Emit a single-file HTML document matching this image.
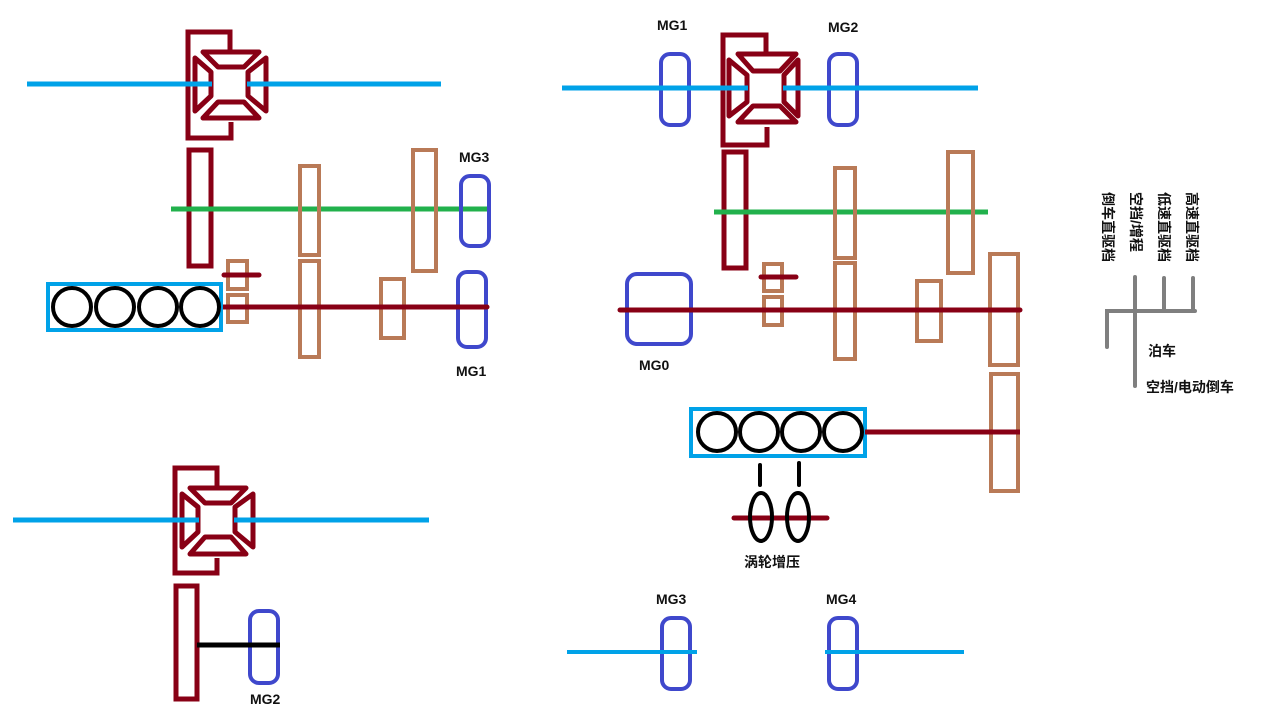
<!DOCTYPE html>
<html><head><meta charset="utf-8"><style>
html,body{margin:0;padding:0;background:#fff;}
svg{display:block;}
text{font-family:"Liberation Sans","Noto Sans CJK SC",sans-serif;font-weight:bold;font-size:14px;fill:#111;}
</style></head><body>
<svg width="1280" height="720" viewBox="0 0 1280 720" xmlns="http://www.w3.org/2000/svg">
<g fill="none" stroke-linejoin="round">

<!-- ===== Top-left ===== -->
<g stroke="#880015" stroke-width="5">
  <polyline points="230,50 230,32 188,32 188,138 231,138 231,122" stroke-linejoin="miter"/>
  <polygon points="203,52 259,52 244,67 218,67"/>
  <polygon points="203,118 259,118 244,102 218,102"/>
  <polygon points="195,58 211,72 211,96 195,111"/>
  <polygon points="266,58 248,72 248,96 266,111"/>
  <rect x="189" y="150" width="22" height="116" stroke-linejoin="miter"/>
</g>
<line x1="27" y1="84" x2="212" y2="84" stroke="#00a2e8" stroke-width="5"/>
<line x1="247" y1="84" x2="441" y2="84" stroke="#00a2e8" stroke-width="5"/>
<line x1="171" y1="209" x2="490" y2="209" stroke="#22b14c" stroke-width="5"/>
<g stroke="#b97a57" stroke-width="4" stroke-linejoin="miter">
  <rect x="300" y="166" width="19" height="89"/>
  <rect x="300" y="261" width="19" height="96"/>
  <rect x="413" y="150" width="23" height="121"/>
  <rect x="381" y="279" width="23" height="59"/>
  <rect x="228" y="261" width="19" height="28"/>
  <rect x="228" y="295" width="19" height="27"/>
</g>
<line x1="224" y1="275" x2="259" y2="275" stroke="#880015" stroke-width="5" stroke-linecap="round"/>
<rect x="461" y="176" width="28" height="70" rx="9" stroke="#3f48cc" stroke-width="4"/>
<rect x="458" y="272" width="28" height="75" rx="9" stroke="#3f48cc" stroke-width="4"/>
<line x1="222" y1="307" x2="487" y2="307" stroke="#880015" stroke-width="5" stroke-linecap="round"/>
<rect x="48" y="284" width="173" height="46" stroke="#00a2e8" stroke-width="4" stroke-linejoin="miter"/>
<g stroke="#000" stroke-width="4">
  <circle cx="72" cy="307" r="19"/><circle cx="115" cy="307" r="19"/>
  <circle cx="158" cy="307" r="19"/><circle cx="200" cy="307" r="19"/>
</g>

<!-- ===== Bottom-left ===== -->
<g stroke="#880015" stroke-width="5">
  <polyline points="217,487 217,468 175,468 175,573 217,573 217,558" stroke-linejoin="miter"/>
  <polygon points="190,488 246,488 231,503 205,503"/>
  <polygon points="190,554 246,554 231,537 205,537"/>
  <polygon points="182,494 198,507 198,532 182,547"/>
  <polygon points="253,494 235,507 235,532 253,547"/>
  <rect x="176" y="586" width="21" height="113" stroke-linejoin="miter"/>
</g>
<line x1="13" y1="520" x2="199" y2="520" stroke="#00a2e8" stroke-width="5"/>
<line x1="234" y1="520" x2="429" y2="520" stroke="#00a2e8" stroke-width="5"/>
<rect x="250" y="611" width="28" height="72" rx="9" stroke="#3f48cc" stroke-width="4"/>
<line x1="197" y1="645" x2="280" y2="645" stroke="#000" stroke-width="5"/>

<!-- ===== Top-right ===== -->
<rect x="661" y="54" width="28" height="71" rx="9" stroke="#3f48cc" stroke-width="4"/>
<rect x="829" y="54" width="28" height="71" rx="9" stroke="#3f48cc" stroke-width="4"/>
<g stroke="#880015" stroke-width="5">
  <polyline points="766,53 766,35 723,35 723,145 767,145 767,127" stroke-linejoin="miter"/>
  <polygon points="738,54 796,54 780,71 753,71"/>
  <polygon points="738,122 796,122 780,106 753,106"/>
  <polygon points="729,60 747,75 747,102 729,116"/>
  <polygon points="798,60 784,75 784,102 798,116"/>
  <rect x="724" y="152" width="22" height="116" stroke-linejoin="miter"/>
</g>
<line x1="562" y1="88" x2="748" y2="88" stroke="#00a2e8" stroke-width="5"/>
<line x1="783" y1="88" x2="978" y2="88" stroke="#00a2e8" stroke-width="5"/>
<line x1="714" y1="212" x2="988" y2="212" stroke="#22b14c" stroke-width="5"/>
<g stroke="#b97a57" stroke-width="4" stroke-linejoin="miter">
  <rect x="835" y="168" width="20" height="90"/>
  <rect x="835" y="263" width="20" height="96"/>
  <rect x="948" y="152" width="25" height="121"/>
  <rect x="917" y="281" width="24" height="60"/>
  <rect x="990" y="254" width="28" height="111"/>
  <rect x="991" y="374" width="27" height="117"/>
  <rect x="764" y="264" width="18" height="27"/>
  <rect x="764" y="297" width="18" height="28"/>
</g>
<line x1="761" y1="277" x2="796" y2="277" stroke="#880015" stroke-width="5" stroke-linecap="round"/>
<rect x="627" y="274" width="64" height="70" rx="10" stroke="#3f48cc" stroke-width="4"/>
<line x1="620" y1="310" x2="1020" y2="310" stroke="#880015" stroke-width="5" stroke-linecap="round"/>
<rect x="691" y="409" width="174" height="47" stroke="#00a2e8" stroke-width="4" stroke-linejoin="miter"/>
<g stroke="#000" stroke-width="4">
  <circle cx="717" cy="432" r="19"/><circle cx="759" cy="432" r="19"/>
  <circle cx="801" cy="432" r="19"/><circle cx="843" cy="432" r="19"/>
</g>
<line x1="865" y1="432" x2="1020" y2="432" stroke="#880015" stroke-width="5"/>
<g stroke="#000" stroke-width="4" stroke-linecap="round">
  <line x1="760" y1="465" x2="760" y2="485"/>
  <line x1="799" y1="463" x2="799" y2="485"/>
</g>
<line x1="734" y1="518" x2="827" y2="518" stroke="#880015" stroke-width="5" stroke-linecap="round"/>
<g stroke="#000" stroke-width="4">
  <ellipse cx="761" cy="517" rx="11" ry="24"/>
  <ellipse cx="798" cy="517" rx="11" ry="24"/>
</g>

<!-- MG3 / MG4 -->
<rect x="662" y="618" width="28" height="71" rx="9" stroke="#3f48cc" stroke-width="4"/>
<rect x="829" y="618" width="28" height="71" rx="9" stroke="#3f48cc" stroke-width="4"/>
<line x1="567" y1="652" x2="697" y2="652" stroke="#00a2e8" stroke-width="4"/>
<line x1="825" y1="652" x2="964" y2="652" stroke="#00a2e8" stroke-width="4"/>

<!-- Legend -->
<g stroke="#7f7f7f" stroke-width="4" stroke-linecap="round" stroke-linejoin="miter">
  <polyline points="1107,347 1107,311 1195,311"/>
  <line x1="1135" y1="277" x2="1135" y2="386"/>
  <line x1="1164" y1="278" x2="1164" y2="311"/>
  <line x1="1193" y1="278" x2="1193" y2="311"/>
</g>
</g>

<!-- Labels -->
<text x="459" y="162">MG3</text>
<text x="456" y="376">MG1</text>
<text x="250" y="704">MG2</text>
<text x="657" y="30">MG1</text>
<text x="828" y="32">MG2</text>
<text x="639" y="370">MG0</text>
<text x="744" y="567">涡轮增压</text>
<text x="656" y="604">MG3</text>
<text x="826" y="604">MG4</text>
<text x="1148" y="356">泊车</text>
<text x="1146" y="392">空挡/电动倒车</text>
<text transform="translate(1103,192) rotate(90)">倒车直驱档</text>
<text transform="translate(1131,192) rotate(90)">空挡/增程</text>
<text transform="translate(1159,192) rotate(90)">低速直驱档</text>
<text transform="translate(1187,192) rotate(90)">高速直驱档</text>
</svg>
</body></html>
